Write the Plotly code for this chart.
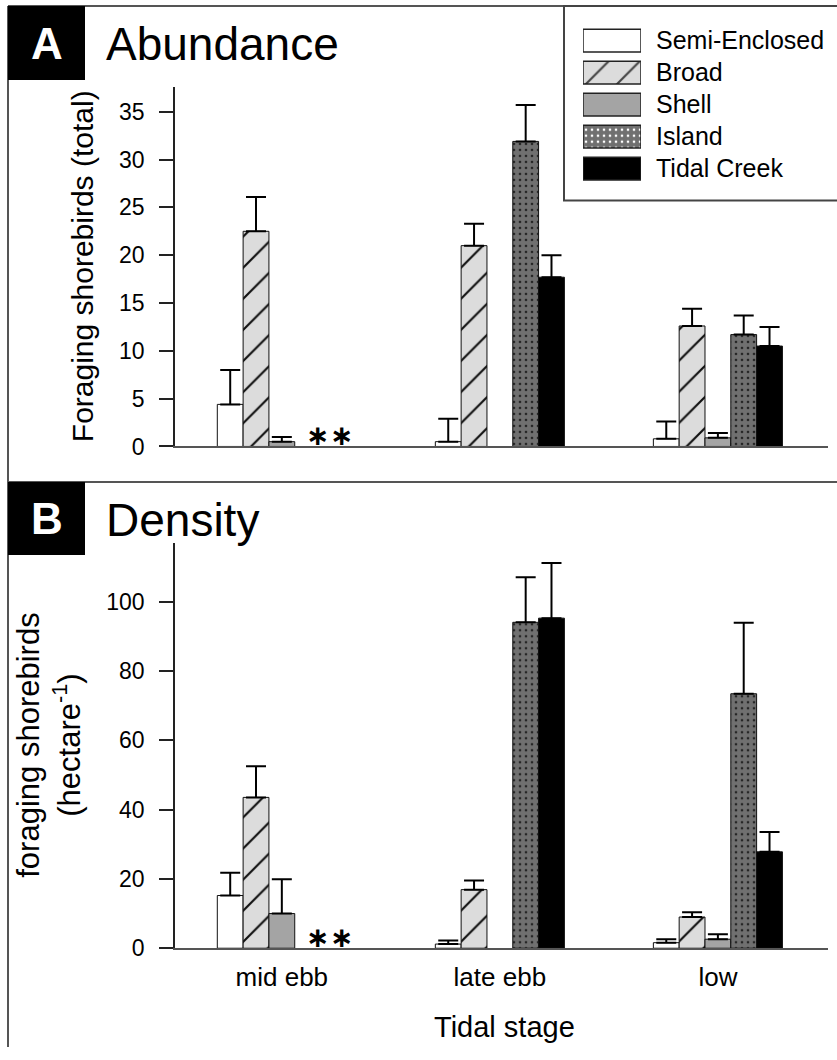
import plotly.graph_objects as go

W, H = 837, 1060

stages = ["mid ebb", "late ebb", "low"]
habitats = ["Semi-Enclosed", "Broad", "Shell", "Island", "Tidal Creek"]

# Panel A: abundance (total) means and upper SE
abund_semi = [4.4, 0.5, 0.8]
abund_broad = [22.5, 21.0, 12.6]
abund_shell = [0.5, None, 0.9]
abund_island = [None, 31.9, 11.7]
abund_tidal = [None, 17.7, 10.5]

abund_semi_se = [3.6, 2.4, 1.8]
abund_broad_se = [3.6, 2.3, 1.8]
abund_shell_se = [0.5, 0, 0.5]
abund_island_se = [0, 3.8, 2.0]
abund_tidal_se = [0, 2.3, 2.0]

# Panel B: density (per hectare) means and upper SE
dens_semi = [15.2, 1.2, 1.6]
dens_broad = [43.5, 16.9, 9.0]
dens_shell = [10.0, None, 2.6]
dens_island = [None, 94.0, 73.4]
dens_tidal = [None, 95.2, 27.8]

dens_semi_se = [6.6, 1.0, 1.0]
dens_broad_se = [9.0, 2.6, 1.4]
dens_shell_se = [9.9, 0, 1.4]
dens_island_se = [0, 13.0, 20.5]
dens_tidal_se = [0, 15.9, 5.7]

FONT = "Liberation Sans, Arial, Helvetica, sans-serif"

styles = {
    "Semi-Enclosed": dict(bg="#ffffff", fg="#000000", shape="", size=8, sol=0.2),
    "Broad": dict(bg="#dcdcdc", fg="#111111", shape="/", size=22, sol=0.1),
    "Shell": dict(bg="#a4a4a4", fg="#000000", shape="", size=8, sol=0.2),
    "Island": dict(bg="#707070", fg="#262626", shape=".", size=6, sol=0.15),
    "Tidal Creek": dict(bg="#000000", fg="#000000", shape="", size=8, sol=0.2),
}


def px_x(p):
    return p / W


def px_y(p):
    return 1 - p / H


def marker_for(name):
    s = styles[name]
    return dict(
        color=s["bg"],
        line=dict(color="#111111", width=1),
        pattern=dict(shape=s["shape"], fgcolor=s["fg"], bgcolor=s["bg"],
                     size=s["size"], solidity=s["sol"], fillmode="overlay",
                     fgopacity=1),
    )


fig = go.Figure()

panelA = [abund_semi, abund_broad, abund_shell, abund_island, abund_tidal]
panelA_se = [abund_semi_se, abund_broad_se, abund_shell_se, abund_island_se, abund_tidal_se]
panelB = [dens_semi, dens_broad, dens_shell, dens_island, dens_tidal]
panelB_se = [dens_semi_se, dens_broad_se, dens_shell_se, dens_island_se, dens_tidal_se]

for vals_list, se_list, xa, ya in [(panelA, panelA_se, "x", "y"), (panelB, panelB_se, "x2", "y2")]:
    for name, vals, se in zip(habitats, vals_list, se_list):
        fig.add_trace(go.Bar(
            x=stages, y=vals, name=name, xaxis=xa, yaxis=ya,
            marker=marker_for(name), showlegend=False, hoverinfo="skip",
            error_y=dict(type="data", symmetric=False, array=se,
                         arrayminus=[0] * len(se), color="#000000",
                         thickness=2, width=10),
        ))

# Legend swatches drawn as a small horizontal bar subplot
fig.add_trace(go.Bar(
    x=[1] * len(habitats), y=habitats, orientation="h", width=0.71,
    xaxis="x3", yaxis="y3", showlegend=False, hoverinfo="skip",
    marker=dict(
        color=[styles[h]["bg"] for h in habitats],
        line=dict(color="#222222", width=1.5),
        pattern=dict(
            shape=[styles[h]["shape"] for h in habitats],
            fgcolor=[styles[h]["fg"] for h in habitats],
            bgcolor=[styles[h]["bg"] for h in habitats],
            size=[styles[h]["size"] for h in habitats],
            solidity=[styles[h]["sol"] for h in habitats],
            fillmode="overlay",
            fgopacity=1,
        ),
    ),
))

xdom = [px_x(175), px_x(828)]
xrange_ = [-0.49, 2.505]

axis_common = dict(showgrid=False, zeroline=False, showline=True)

fig.update_layout(
    width=W, height=H,
    margin=dict(l=0, r=0, t=0, b=0),
    paper_bgcolor="white", plot_bgcolor="white",
    barmode="group", bargap=0.408, bargroupgap=0,
    font=dict(family=FONT, color="#000000"),
    xaxis=dict(domain=xdom, range=xrange_, type="category", anchor="y",
               showticklabels=False, ticks="", linecolor="#555555", linewidth=1.5,
               **axis_common),
    yaxis=dict(domain=[px_y(452), px_y(88)], range=[0, 37.6], anchor="x",
               dtick=5, ticks="outside", ticklen=14, tickwidth=1.5, tickcolor="#222222",
               linecolor="#222222", linewidth=1.5, tickfont=dict(size=23),
               ticklabelstandoff=10, **axis_common),
    xaxis2=dict(domain=xdom, range=xrange_, type="category", anchor="y2",
                ticks="", linecolor="#555555", linewidth=1.5,
                tickfont=dict(size=26), ticklabelstandoff=5, **axis_common),
    yaxis2=dict(domain=[px_y(960), px_y(550)], range=[0, 116.8], anchor="x2",
                dtick=20, ticks="outside", ticklen=14, tickwidth=1.5, tickcolor="#222222",
                linecolor="#222222", linewidth=1.5, tickfont=dict(size=23),
                ticklabelstandoff=10, **axis_common),
    xaxis3=dict(domain=[px_x(583), px_x(641)], range=[0, 1], anchor="y3",
                visible=False, fixedrange=True),
    yaxis3=dict(domain=[px_y(187), px_y(25)], type="category", anchor="x3",
                autorange="reversed", side="right", ticks="", showline=False,
                showgrid=False, zeroline=False, tickfont=dict(size=25),
                ticklabelstandoff=14),
)

line_col = "#555555"
shapes = [
    dict(type="line", xref="paper", yref="paper", x0=px_x(8), x1=px_x(8),
         y0=px_y(6), y1=0, line=dict(color=line_col, width=2)),
    dict(type="line", xref="paper", yref="paper", x0=px_x(8), x1=1,
         y0=px_y(6), y1=px_y(6), line=dict(color=line_col, width=2)),
    dict(type="line", xref="paper", yref="paper", x0=px_x(8), x1=1,
         y0=px_y(488), y1=px_y(488), line=dict(color=line_col, width=2)),
    dict(type="rect", xref="paper", yref="paper", x0=px_x(8), x1=px_x(85),
         y0=px_y(81), y1=px_y(6), fillcolor="#000000", line=dict(width=0)),
    dict(type="rect", xref="paper", yref="paper", x0=px_x(8), x1=px_x(85),
         y0=px_y(562), y1=px_y(488), fillcolor="#000000", line=dict(width=0)),
    dict(type="rect", xref="paper", yref="paper", x0=px_x(564), x1=1.01,
         y0=px_y(203), y1=px_y(6), line=dict(color="#444444", width=2)),
]
fig.update_layout(shapes=shapes)


def note(text, x, y, size, xref="paper", yref="paper", xanchor="center",
         color="#000000", angle=0, family=FONT):
    return dict(text=text, x=x, y=y, xref=xref, yref=yref, xanchor=xanchor,
                yanchor="middle", showarrow=False, textangle=angle,
                font=dict(size=size, color=color, family=family))


ann = [
    note("<b>A</b>", px_x(46.5), px_y(44), 44, color="white"),
    note("<b>B</b>", px_x(46.5), px_y(525), 44, color="white"),
    note("Abundance", px_x(104), px_y(45), 46, xanchor="left"),
    note("Density", px_x(104), px_y(526), 46, xanchor="left"),
    note("Foraging shorebirds (total)", px_x(82.5), px_y(270), 30, angle=-90),
    note("foraging shorebirds<br>(hectare<sup>-1</sup>)", px_x(49), px_y(755), 31, angle=-90),
    note("Tidal stage", px_x(504), px_y(1040), 29),
]
STAR_FONT = "DejaVu Sans, sans-serif"
for xv in [0.163, 0.273]:
    ann.append(note("<b>\u2217</b>", xv, px_y(441), 28, xref="x", family=STAR_FONT))
    ann.append(note("<b>\u2217</b>", xv, px_y(949), 28, xref="x2", family=STAR_FONT))
fig.update_layout(annotations=ann)

fig.write_html("out.html")
